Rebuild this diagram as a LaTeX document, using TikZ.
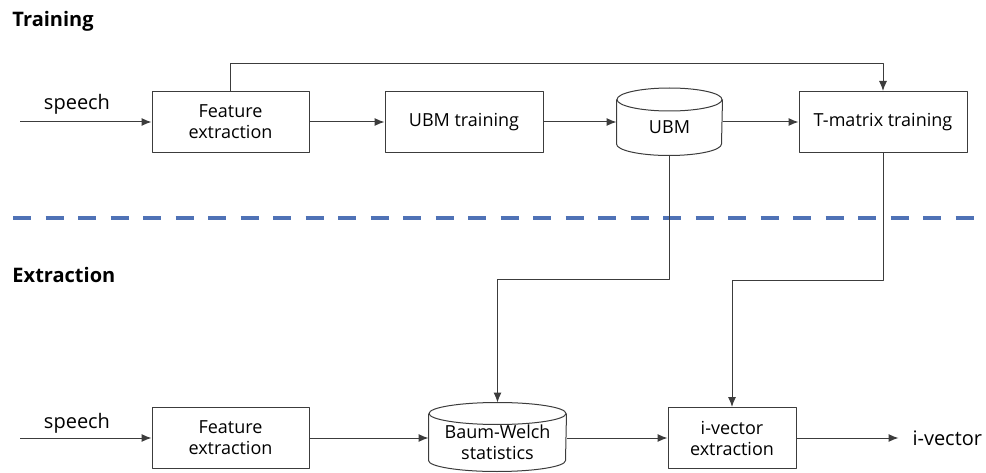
\documentclass[tikz,border=0pt]{standalone}
\usepackage{fontspec}
\setmainfont{Open Sans}
\usetikzlibrary{arrows.meta}
\definecolor{linegray}{RGB}{60,60,60}
\definecolor{sepblue}{RGB}{79,114,182}
\tikzset{
	blk/.style={draw=linegray,rectangle,minimum width=157pt,minimum height=61pt,align=center,inner sep=0pt},
	dbbody/.style={rectangle,align=center,inner sep=0pt},
	title/.style={font=\fontsize{20}{22}\selectfont\bfseries,anchor=base west,inner sep=0pt},
	lbl/.style={font=\fontsize{20}{22}\selectfont,anchor=base,inner sep=0pt}
}
\begin{document}
\begin{tikzpicture}[x=1pt,y=-1pt,line join=round,>={Latex[length=10pt,width=8pt]},font=\fontsize{18}{21}\selectfont,line width=1pt,draw=linegray]
		\useasboundingbox (0,0) rectangle (986,473);
		% training
		\node[title] (train) at (12,27) {Training};
		\coordinate (in1) at (20,122);
		\node[lbl] (sp1) at (77,110) {speech};
		\node[blk] (fe1) at (230.5,122) {Feature\\extraction};
		\node[blk,minimum width=158pt] (ubmt) at (464,122) {UBM training};
		\node[dbbody,minimum width=105pt,minimum height=55pt] (ubm) at (669.5,127.5) {UBM};
		\node[blk,minimum width=168pt] (tmat) at (883,122) {T-matrix training};
		\draw[->] (in1) -- (fe1);
		\draw[->] (fe1) -- (ubmt);
		\draw[->] (ubmt.east) -- (ubmt.east -| ubm.west);
		\draw[->] (ubm.east |- tmat) -- (tmat);
		\draw[->] (fe1.north) -- ++(0,-27) -| (tmat.north);
		% separator
		\draw[sepblue,line width=4pt,dash pattern=on 18pt off 14.5pt] (13,218) -- (975,218);
		% extraction
		\node[title] (extr) at (12,283) {Extraction};
		\coordinate (in2) at (20,438);
		\node[lbl] (sp2) at (77,428) {speech};
		\node[blk] (fe2) at (230.5,438) {Feature\\extraction};
		\node[dbbody,minimum width=137pt,minimum height=57pt] (bw) at (497.5,442.5) {Baum-Welch\\statistics};
		\node[blk,minimum width=128pt] (ivx) at (732,438) {i-vector\\extraction};
		\node[lbl,anchor=west] (iv) at (912,438) {i-vector};
		\draw[->] (in2) -- (fe2);
		\draw[->] (fe2.east) -- (fe2.east -| bw.west);
		\draw[->] (bw.east |- ivx) -- (ivx);
		\draw[->] (ivx.east) -- ++(102,0) coordinate (ivend);
		\draw[->] (ubm.south) -- ++(0,124) -| ([yshift=11pt]bw.north);
		\draw[->] (tmat.south) -- ++(0,128) -| (ivx.north);
		% cylinders
		\foreach \n/\rx/\ry in {ubm/52.5/11.5,bw/68.5/11}
		{
		\draw[fill=white] (\n.north) ellipse [x radius=\rx pt,y radius=\ry pt];
		\draw (\n.north west) -- ([yshift=\ry pt]\n.south west) arc [start angle=180,end angle=360,x radius=\rx pt,y radius=\ry pt] -- (\n.north east);
		}
\end{tikzpicture}
\end{document}
